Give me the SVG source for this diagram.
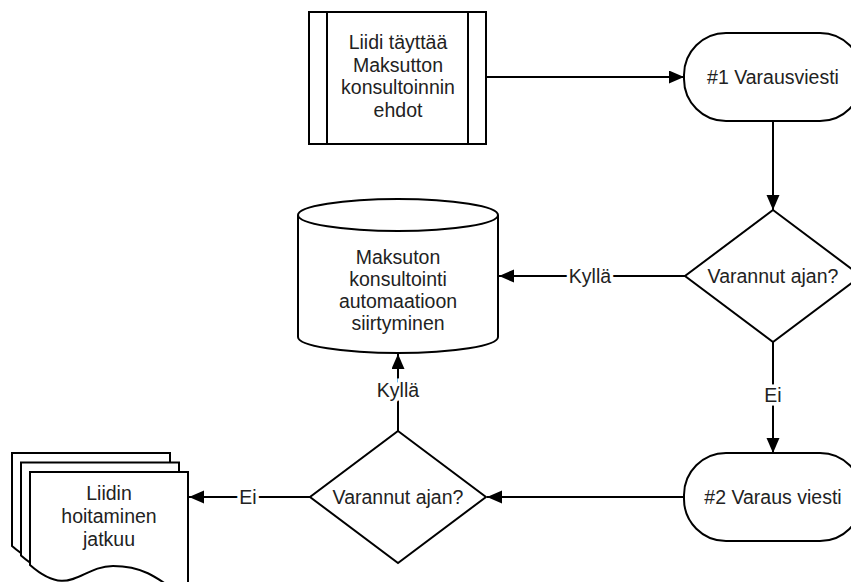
<svg xmlns="http://www.w3.org/2000/svg" width="851" height="582" viewBox="0 0 851 582">
<style>
.s{fill:#fff;stroke:#000;stroke-width:2}
.t{font-family:"Liberation Sans",Arial,sans-serif;font-size:19.5px;fill:#222;text-anchor:middle}
.c{fill:none;stroke:#000;stroke-width:2}
.l{font-family:"Liberation Sans",Arial,sans-serif;font-size:19.5px;fill:#222;text-anchor:middle;stroke:#fff;stroke-width:7;paint-order:stroke}
</style>
<defs>
<marker id="ah" markerUnits="userSpaceOnUse" markerWidth="16" markerHeight="14" refX="15" refY="6.5" orient="auto">
<path d="M0,0 L15,6.5 L0,13 Z" fill="#000"/>
</marker>
<path id="doc" d="M30,565 V472 H188 V600 C160,580 146,566 113,566 C80,566 70,600 30,565 Z"/>
</defs>
<rect width="851" height="582" fill="#fff"/>
<g id="connectors">
<path class="c" d="M486,77 H684" marker-end="url(#ah)"/>
<path class="c" d="M773,121 V210" marker-end="url(#ah)"/>
<path class="c" d="M685,276 H499" marker-end="url(#ah)"/>
<path class="c" d="M773,342 V453" marker-end="url(#ah)"/>
<path class="c" d="M685,497 H487" marker-end="url(#ah)"/>
<path class="c" d="M398,431 V354" marker-end="url(#ah)"/>
<path class="c" d="M310,497 H189" marker-end="url(#ah)"/>
<text class="l" x="590" y="283">Kyllä</text>
<text class="l" x="773" y="402">Ei</text>
<text class="l" x="398" y="397">Kyllä</text>
<text class="l" x="248" y="504">Ei</text>
</g>
<g id="start">
<rect class="s" x="309" y="12" width="177" height="132"/>
<path class="c" d="M327,12 V144 M468,12 V144"/>
<text class="t" x="398" y="49">Liidi täyttää</text>
<text class="t" x="398" y="72">Maksutton</text>
<text class="t" x="398" y="94">konsultoinnin</text>
<text class="t" x="398" y="117">ehdot</text>
</g>
<g id="msg1">
<rect class="s" x="684" y="33" width="178" height="88" rx="42" ry="42"/>
<text class="t" x="773" y="84">#1 Varausviesti</text>
</g>
<g id="dec1">
<polygon class="s" points="773,210 861,276 773,342 685,276"/>
<text class="t" x="773" y="283">Varannut ajan?</text>
</g>
<g id="db">
<path class="s" d="M298,215 V337 A100,16 0 0 0 498,337 V215 A100,16 0 0 0 298,215 Z"/>
<path class="c" d="M298,215 A100,16 0 0 0 498,215"/>
<text class="t" x="398" y="264">Maksuton</text>
<text class="t" x="398" y="286">konsultointi</text>
<text class="t" x="398" y="308">automaatioon</text>
<text class="t" x="398" y="330">siirtyminen</text>
</g>
<g id="msg2">
<rect class="s" x="684" y="453" width="178" height="88" rx="42" ry="42"/>
<text class="t" x="773" y="504">#2 Varaus viesti</text>
</g>
<g id="dec2">
<polygon class="s" points="398,431 486,497 398,563 310,497"/>
<text class="t" x="398" y="504">Varannut ajan?</text>
</g>
<g id="docs">
<use href="#doc" class="s" transform="translate(-18,-19)"/>
<use href="#doc" class="s" transform="translate(-9,-9.5)"/>
<use href="#doc" class="s"/>
<text class="t" x="109" y="500">Liidin</text>
<text class="t" x="109" y="523">hoitaminen</text>
<text class="t" x="109" y="546">jatkuu</text>
</g>
</svg>
